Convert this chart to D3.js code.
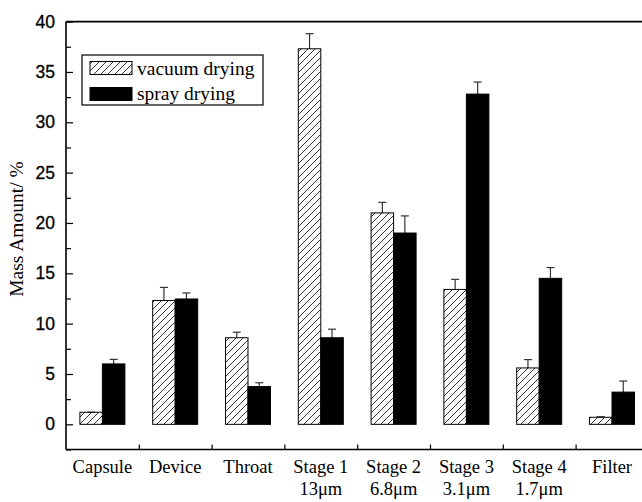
<!DOCTYPE html>
<html>
<head>
<meta charset="utf-8">
<script src="https://cdn.jsdelivr.net/npm/d3@7"></script>
<style>
  body { margin: 0; background: #fff; }
  svg { display: block; }
</style>
</head>
<body>
<div id="container"></div>
<script>
/* CONSTANTS AND GLOBALS */
const width = 642,
  height = 502;

// DATA
const categories = ["Capsule", "Device", "Throat", "Stage 1", "Stage 2", "Stage 3", "Stage 4", "Filter"];
const subLabels = ["", "", "", "13μm", "6.8μm", "3.1μm", "1.7μm", ""];
const seriesNames = ["vacuum drying", "spray drying"];
const vacuum = [1.2, 12.3, 8.6, 37.3, 21.0, 13.4, 5.6, 0.7];
const vacuumErr = [0.0, 1.3, 0.55, 1.5, 1.05, 1.0, 0.83, 0.05];
const spray = [6.0, 12.45, 3.75, 8.6, 19.0, 32.8, 14.5, 3.2];
const sprayErr = [0.45, 0.6, 0.38, 0.85, 1.7, 1.2, 1.07, 1.1];
const yMajor = [0, 5, 10, 15, 20, 25, 30, 35, 40];
const yMinor = [-2.5, 2.5, 7.5, 12.5, 17.5, 22.5, 27.5, 32.5, 37.5];

const serif = "'Liberation Serif', 'Times New Roman', serif";
const sans = "'Liberation Sans', Arial, sans-serif";

const svg = d3.select("#container")
  .append("svg")
  .attr("width", width)
  .attr("height", height);

// hatch pattern for vacuum drying
const defs = svg.append("defs");
const pat = defs.append("pattern")
  .attr("id", "hatch")
  .attr("patternUnits", "userSpaceOnUse")
  .attr("width", 7)
  .attr("height", 7);
pat.append("path")
  .attr("d", "M0,7 L7,0 M-1,1 L1,-1 M6,8 L8,6")
  .attr("stroke", "#000")
  .attr("stroke-width", 0.8);

// SCALES
const x = d3.scaleBand()
  .domain(categories)
  .range([66, 648.4])
  .padding(0);

const xi = d3.scaleLinear()
  .domain([0, categories.length])
  .range([66, 648.4]);

const y = d3.scaleLinear()
  .domain([-2.5, 40])
  .range([449.5, 21.6]);

const barW = 22.5;

const rows = categories.map((c, i) => ({
  cat: c, sub: subLabels[i],
  v: vacuum[i], ve: vacuumErr[i],
  s: spray[i], se: sprayErr[i]
}));

// ERROR BARS (drawn first so bar outline sits on top)
const errs = [];
rows.forEach(d => {
  const cx = x(d.cat) + x.bandwidth() / 2;
  errs.push({ x: cx - barW / 2, v: d.v, e: d.ve });
  errs.push({ x: cx + barW / 2, v: d.s, e: d.se });
});

const eg = svg.append("g").attr("stroke", "#333").attr("stroke-width", 1.2);
eg.selectAll("line.stem")
  .data(errs)
  .join("line")
  .attr("class", "stem")
  .attr("x1", d => d.x).attr("x2", d => d.x)
  .attr("y1", d => y(d.v)).attr("y2", d => y(d.v + d.e));
eg.selectAll("line.cap")
  .data(errs)
  .join("line")
  .attr("class", "cap")
  .attr("x1", d => d.x - 4).attr("x2", d => d.x + 4)
  .attr("y1", d => y(d.v + d.e)).attr("y2", d => y(d.v + d.e));

// BARS
svg.selectAll("rect.vac")
  .data(rows)
  .join("rect")
  .attr("class", "vac")
  .attr("x", d => x(d.cat) + x.bandwidth() / 2 - barW)
  .attr("y", d => y(d.v))
  .attr("width", barW)
  .attr("height", d => y(0) - y(d.v))
  .attr("fill", "url(#hatch)")
  .attr("stroke", "#000")
  .attr("stroke-width", 1);

svg.selectAll("rect.spr")
  .data(rows)
  .join("rect")
  .attr("class", "spr")
  .attr("x", d => x(d.cat) + x.bandwidth() / 2)
  .attr("y", d => y(d.s))
  .attr("width", barW)
  .attr("height", d => y(0) - y(d.s))
  .attr("fill", "#000")
  .attr("stroke", "#000")
  .attr("stroke-width", 1);

// AXES
const yAxis = svg.append("g")
  .attr("transform", "translate(66,0)")
  .call(d3.axisLeft(y).tickValues(yMajor).tickSize(-7).tickPadding(11));
yAxis.select(".domain").remove();
yAxis.selectAll("line").attr("stroke-width", 1.2);
yAxis.selectAll("text")
  .attr("font-family", sans)
  .attr("font-size", 17.5)
  .attr("fill", "#000")
  .attr("stroke", "#000")
  .attr("stroke-width", 0.3);

const yMinorAxis = svg.append("g")
  .attr("transform", "translate(66,0)")
  .call(d3.axisLeft(y).tickValues(yMinor).tickSize(-5).tickFormat(""));
yMinorAxis.select(".domain").remove();
yMinorAxis.selectAll("line").attr("stroke-width", 1.2);

const xTicks = svg.append("g")
  .attr("transform", "translate(0,449.5)")
  .call(d3.axisBottom(xi).tickValues(d3.range(1, categories.length)).tickSize(-5).tickFormat(""));
xTicks.select(".domain").remove();
xTicks.selectAll("line").attr("stroke-width", 1.2);

// frame lines
const frame = svg.append("g").attr("stroke", "#000").attr("stroke-width", 1.6);
frame.append("line").attr("x1", 66).attr("x2", 66).attr("y1", y(40)).attr("y2", y(-2.5));
frame.append("line").attr("x1", 66).attr("x2", width).attr("y1", y(-2.5)).attr("y2", y(-2.5));
frame.append("line").attr("x1", 66).attr("x2", width).attr("y1", y(40)).attr("y2", y(40));

// category labels
const lab = svg.append("g")
  .attr("font-family", serif)
  .attr("font-size", 18.5)
  .attr("text-anchor", "middle")
  .attr("fill", "#000");
lab.selectAll("text.cat")
  .data(rows)
  .join("text")
  .attr("class", "cat")
  .attr("x", d => x(d.cat) + x.bandwidth() / 2)
  .attr("y", 473)
  .text(d => d.cat);
lab.selectAll("text.sub")
  .data(rows.filter(d => d.sub))
  .join("text")
  .attr("class", "sub")
  .attr("x", d => x(d.cat) + x.bandwidth() / 2)
  .attr("y", 495)
  .text(d => d.sub);

// y title
svg.append("text")
  .attr("transform", "translate(23,229) rotate(-90)")
  .attr("text-anchor", "middle")
  .attr("font-family", serif)
  .attr("font-size", 19.5)
  .text("Mass Amount/ %");

// LEGEND
const lg = svg.append("g");
lg.append("rect")
  .attr("x", 82).attr("y", 55)
  .attr("width", 181).attr("height", 50)
  .attr("fill", "#fff").attr("stroke", "#000").attr("stroke-width", 1.2);
const legendFills = ["url(#hatch)", "#000"];
lg.selectAll("rect.sw")
  .data(seriesNames)
  .join("rect")
  .attr("class", "sw")
  .attr("x", 90)
  .attr("y", (d, i) => 61.5 + i * 26)
  .attr("width", 42)
  .attr("height", 13)
  .attr("fill", (d, i) => legendFills[i])
  .attr("stroke", "#000")
  .attr("stroke-width", 1);
lg.selectAll("text")
  .data(seriesNames)
  .join("text")
  .attr("x", 137)
  .attr("y", (d, i) => 75 + i * 25)
  .attr("font-family", serif)
  .attr("font-size", 19.5)
  .text(d => d);
</script>
</body>
</html>
